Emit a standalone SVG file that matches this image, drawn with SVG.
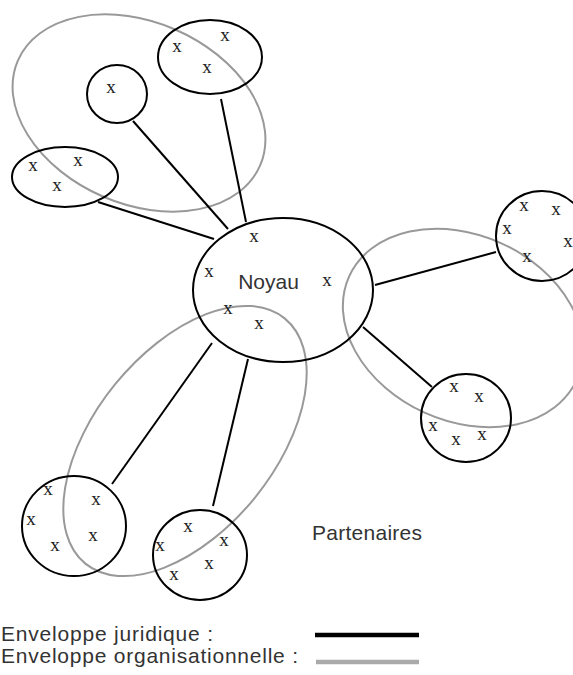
<svg xmlns="http://www.w3.org/2000/svg" width="573" height="675" viewBox="0 0 573 675">
<style>
.jur{fill:none;stroke:#000;stroke-width:2}
.org{fill:none;stroke:#999;stroke-width:2}
.link{stroke:#000;stroke-width:2}
.x{font-family:"Liberation Serif",serif;font-size:19px;fill:#222;text-anchor:middle}
.lbl{font-family:"Liberation Sans",Arial,sans-serif;font-size:21px;fill:#333}
</style>
<rect width="573" height="675" fill="#fff"/>
<g id="org-envelopes">
<ellipse class="org" cx="139" cy="113" rx="132" ry="91" transform="rotate(23.4 139 113)"/>
<ellipse class="org" cx="463" cy="328" rx="125" ry="93" transform="rotate(24.4 463 328)"/>
<ellipse class="org" cx="185" cy="441" rx="158" ry="90" transform="rotate(-50.9 185 441)"/>
</g>
<g id="connectors">
<line class="link" x1="98" y1="202" x2="214" y2="239"/>
<line class="link" x1="133" y1="121" x2="228" y2="229"/>
<line class="link" x1="221" y1="99" x2="246" y2="222"/>
<line class="link" x1="375" y1="285" x2="496" y2="252"/>
<line class="link" x1="363" y1="327" x2="432" y2="387"/>
<line class="link" x1="112" y1="484" x2="212" y2="343"/>
<line class="link" x1="213" y1="506" x2="248" y2="359"/>
</g>
<g id="noyau">
<ellipse class="jur" cx="283" cy="290" rx="90" ry="72"/>
<text class="lbl" x="268.5" y="289" text-anchor="middle" font-size="23">Noyau</text>
<text class="x" x="254" y="242">x</text>
<text class="x" x="209" y="277">x</text>
<text class="x" x="327" y="286">x</text>
<text class="x" x="228" y="314">x</text>
<text class="x" x="259" y="329">x</text>
</g>
<g id="p-single">
<ellipse class="jur" cx="117" cy="94" rx="30" ry="29"/>
<text class="x" x="111" y="93">x</text>
</g>
<g id="p-topright">
<ellipse class="jur" cx="210" cy="57" rx="52" ry="37"/>
<text class="x" x="177" y="52">x</text>
<text class="x" x="225" y="41">x</text>
<text class="x" x="207" y="73">x</text>
</g>
<g id="p-left">
<ellipse class="jur" cx="65" cy="177" rx="53" ry="30"/>
<text class="x" x="33" y="171">x</text>
<text class="x" x="78" y="166">x</text>
<text class="x" x="57" y="191">x</text>
</g>
<g id="p-right-top">
<ellipse class="jur" cx="542" cy="236" rx="46" ry="45"/>
<text class="x" x="524" y="211">x</text>
<text class="x" x="556" y="215">x</text>
<text class="x" x="507" y="234">x</text>
<text class="x" x="568" y="247">x</text>
<text class="x" x="527" y="262">x</text>
</g>
<g id="p-right-bottom">
<ellipse class="jur" cx="466" cy="418" rx="45" ry="44"/>
<text class="x" x="454" y="392">x</text>
<text class="x" x="479" y="402">x</text>
<text class="x" x="433" y="431">x</text>
<text class="x" x="456" y="445">x</text>
<text class="x" x="482" y="440">x</text>
</g>
<g id="p-bottom-left">
<ellipse class="jur" cx="74" cy="526" rx="52" ry="50"/>
<text class="x" x="48" y="495">x</text>
<text class="x" x="96" y="505">x</text>
<text class="x" x="31" y="525">x</text>
<text class="x" x="55" y="551">x</text>
<text class="x" x="93" y="541">x</text>
</g>
<g id="p-bottom-mid">
<ellipse class="jur" cx="200" cy="555" rx="47" ry="45"/>
<text class="x" x="188" y="532">x</text>
<text class="x" x="160" y="551">x</text>
<text class="x" x="224" y="546">x</text>
<text class="x" x="209" y="569">x</text>
<text class="x" x="174" y="580">x</text>
</g>
<text class="lbl" x="312" y="540" textLength="110" lengthAdjust="spacing">Partenaires</text>
<g id="legend">
<text class="lbl" x="1" y="641" font-size="22" textLength="212" lengthAdjust="spacing">Enveloppe juridique :</text>
<text class="lbl" x="1" y="663" font-size="22" textLength="297" lengthAdjust="spacing">Enveloppe organisationnelle :</text>
<line x1="315" y1="635" x2="419" y2="635" stroke="#000" stroke-width="4.5"/>
<line x1="316" y1="662" x2="419" y2="662" stroke="#aaa" stroke-width="4.5"/>
</g>
</svg>
